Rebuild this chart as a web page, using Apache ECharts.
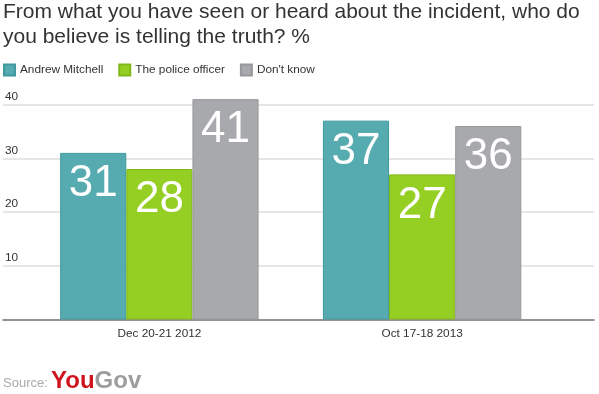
<!DOCTYPE html>
<html><head><meta charset="utf-8">
<script src="https://cdn.jsdelivr.net/npm/echarts@6/dist/echarts.min.js"></script>
<style>html,body{margin:0;padding:0;background:#fff}#c{width:599px;height:394px}</style>
</head><body><div id="c"></div>
<script>
const categories = ['Dec 20-21 2012', 'Oct 17-18 2013'];
const seriesNames = ['Andrew Mitchell', 'The police officer', "Don't know"];
const andrewMitchell = [31, 37];
const policeOfficer = [28, 27];
const dontKnow = [41, 36];
const yTicks = [0, 10, 20, 30, 40];

const colors = ['#55abaf', '#95cf24', '#a8a9ac'];
const borders = ['#3e9a9e', '#80b81a', '#97989b'];
const values = [andrewMitchell, policeOfficer, dontKnow];
const FONT = '"Liberation Sans", Arial, Helvetica, sans-serif';

const chart = echarts.init(document.getElementById('c'));
const TOP = 104.5, BOTTOM = 394 - 319.5;
chart.setOption({
  animation: false,
  textStyle: { fontFamily: FONT },
  title: {
    text: 'From what you have seen or heard about the incident, who do\nyou believe is telling the truth? %',
    left: 3, top: 0, padding: 0,
    textStyle: { fontFamily: FONT, fontSize: 21, fontWeight: 'normal', color: '#333', lineHeight: 24.5 }
  },
  legend: {
    left: 3, top: 63.5, padding: 0, itemWidth: 11, itemHeight: 11, itemGap: 15,
    icon: 'rect',
    textStyle: { fontFamily: FONT, fontSize: 11.8, color: '#333' },
    data: seriesNames
  },
  grid: [
    { left: 3, right: 5, top: TOP, bottom: BOTTOM },
    { left: 28, right: 45.5, top: TOP, bottom: BOTTOM }
  ],
  xAxis: [
    { gridIndex: 0, type: 'value', min: 0, max: 1, axisLabel: { show: false }, axisTick: { show: false },
      splitLine: { show: false }, axisLine: { show: true, lineStyle: { color: '#777', width: 1.5 } } },
    { gridIndex: 1, type: 'category', data: categories, axisLine: { show: false }, axisTick: { show: false },
      axisLabel: { fontFamily: FONT, fontSize: 11.8, color: '#333', margin: 8 } }
  ],
  yAxis: [
    { gridIndex: 0, type: 'value', min: yTicks[0], max: yTicks[yTicks.length - 1], interval: 10,
      axisLine: { show: false }, axisTick: { show: false },
      splitLine: { show: true, lineStyle: { color: '#dedede', width: 1.5 } },
      axisLabel: { inside: true, verticalAlign: 'bottom', margin: 2, fontFamily: FONT, fontSize: 11.8, color: '#333',
        formatter: v => (v === 0 ? '' : String(v)), padding: [0, 0, 2, 0] } },
    { gridIndex: 1, type: 'value', min: 0, max: 40, show: false, splitLine: { show: false } }
  ],
  series: seriesNames.map((name, i) => ({
    name, type: 'bar', xAxisIndex: 1, yAxisIndex: 1, data: values[i],
    barGap: '0%', barCategoryGap: '24.5%', clip: false,
    itemStyle: { color: colors[i], borderColor: borders[i], borderWidth: 1 },
    label: { show: true, position: 'insideTop', distance: 9, color: '#fff', fontSize: 44, fontFamily: FONT }
  })),
  graphic: [
    { type: 'text', left: 3, top: 377, style: { text: 'Source:', fontFamily: FONT, fontSize: 13, fill: '#aaa' } },
    { type: 'text', left: 51, top: 369, style: {
      text: '{a|You}{b|Gov}',
      rich: {
        a: { fontFamily: FONT, fontSize: 24, fontWeight: 'bold', fill: '#d0141d', color: '#d0141d' },
        b: { fontFamily: FONT, fontSize: 24, fontWeight: 'bold', fill: '#9d9d9d', color: '#9d9d9d' }
      } } }
  ]
});
</script></body></html>
